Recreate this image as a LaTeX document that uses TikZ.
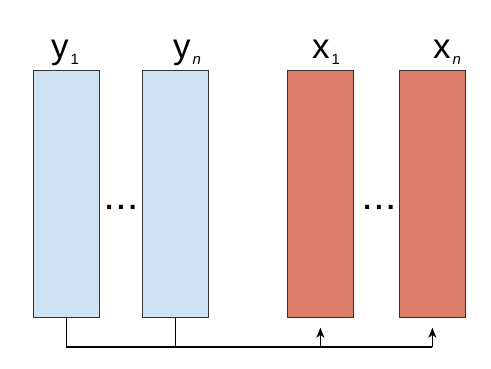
\documentclass[tikz,border=0pt]{standalone}
\usepackage{fontspec}
\setmainfont{Liberation Sans}
\usetikzlibrary{arrows.meta}
\definecolor{bluefill}{HTML}{CFE2F3}
\definecolor{redfill}{HTML}{DD7E6B}
\definecolor{edge}{HTML}{333333}
\newcommand{\lblsub}[2]{#1\hspace{2pt}\raisebox{-6pt}{\fontsize{15}{15}\selectfont #2}}
\begin{document}
\begin{tikzpicture}[x=1pt,y=-1pt,
  box/.style={draw=edge, line width=0.8pt, minimum width=66pt, minimum height=247pt, inner sep=0pt, anchor=north west},
  lbl/.style={font=\fontsize{35}{35}\selectfont, anchor=base, inner sep=0pt},
  dots/.style={font=\bfseries\fontsize{28}{28}\selectfont, inner sep=0pt, anchor=base},
  wire/.style={line width=1.3pt, black},
  arr/.style={wire, -{Stealth[length=10pt,width=8pt,inset=3pt]}}]
\useasboundingbox[fill=white] (0,0) rectangle (491,368);
\node[box, fill=bluefill] (y1) at (33,70) {};
\node[box, fill=bluefill] (yn) at (142,70) {};
\node[box, fill=redfill] (x1) at (287,70) {};
\node[box, fill=redfill] (xn) at (399,70) {};
\node[lbl] (ly1) at (65,58) {\lblsub{y}{1}};
\node[lbl] (lyn) at (187,58) {\lblsub{y}{\itshape n}};
\node[lbl] (lx1) at (326,58) {\lblsub{x}{1}};
\node[lbl] (lxn) at (447,58) {\lblsub{x}{\itshape n}};
\node[dots] (d1) at (121,209) {.\hspace{4pt}.\hspace{4pt}.};
\node[dots] (d2) at (379,209) {.\hspace{4pt}.\hspace{4pt}.};
\coordinate (bus) at (0,347);
\coordinate (t1) at ([yshift=-10pt]x1.south);
\coordinate (tn) at ([yshift=-10pt]xn.south);
\draw[wire] (y1.south) -- (y1.south |- bus) -- (xn.south |- bus);
\draw[wire] (yn.south) -- (yn.south |- bus);
\draw[arr] (x1.south |- bus) -- (t1);
\draw[arr] (xn.south |- bus) -- (tn);
\end{tikzpicture}
\end{document}
